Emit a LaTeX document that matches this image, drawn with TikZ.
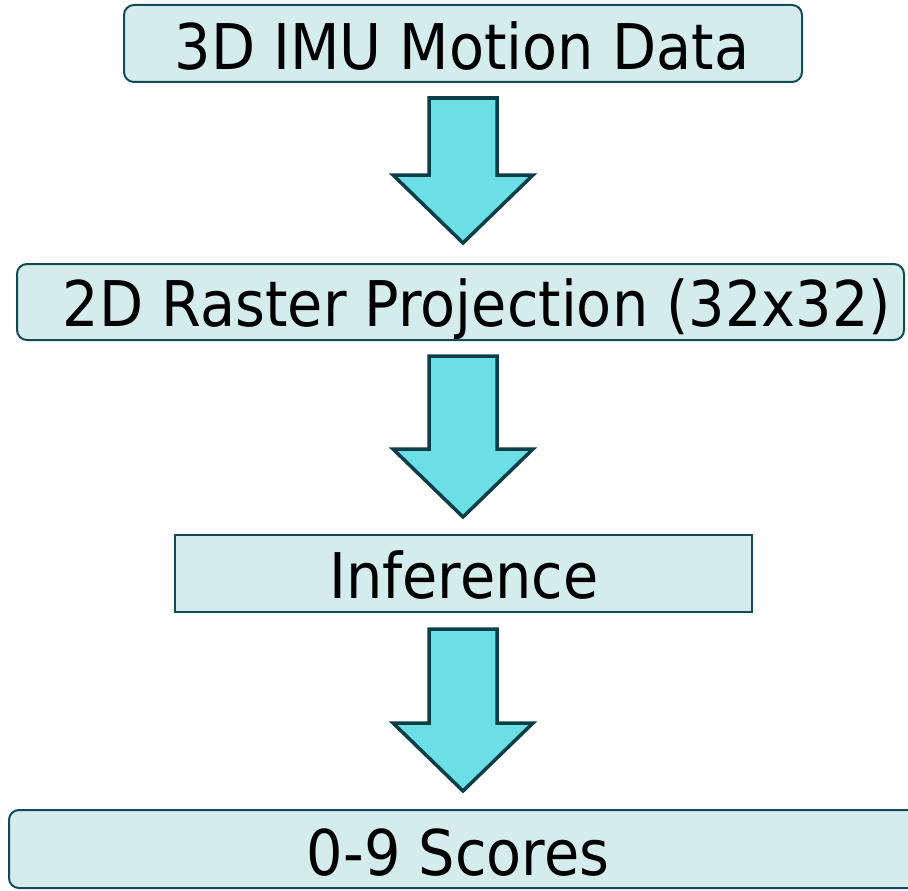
\documentclass[tikz,border=0pt]{standalone}
\usepackage{fontspec}
\usetikzlibrary{calc}
\newfontfamily\flowfont[FakeStretch=0.91]{DejaVu Sans}
\definecolor{boxfill}{RGB}{213,236,236}
\definecolor{boxline}{RGB}{18,75,85}
\definecolor{arrowfill}{RGB}{107,222,230}
\definecolor{arrowline}{RGB}{10,62,72}
\tikzset{
  stage/.style={draw=boxline, fill=boxfill, line width=2pt, rounded corners=10pt, inner sep=0pt},
  squarestage/.style={stage, rounded corners=0pt},
  caption/.style={anchor=base, inner sep=0pt, font=\flowfont\fontsize{63}{70}\selectfont},
  blockarrow/.style={draw=arrowline, fill=arrowfill, line width=3.5pt, miter limit=10}
}
% block arrow: starts #3 below the bottom of #1, its tip #4 above the top of #2
\newcommand{\flowarrow}[4]{%
  \draw[blockarrow]
    let \p1 = ($(#1.south)+(0,#3)$), \p2 = ($(#2.north)+(0,-#4)$) in
    (463-34,\y1) -- (463+34,\y1) -- (463+34,\y2+68) -- (463+70,\y2+68)
    -- (463,\y2) -- (463-70,\y2+68) -- (463-34,\y2+68) -- cycle;}
\begin{document}
\begin{tikzpicture}[x=1pt, y=-1pt]
  \useasboundingbox (0,0) rectangle (908,891);
  % stages
  \node[stage, minimum width=678pt, minimum height=77pt] (b1) at (463,43.5) {};
  \node[stage, minimum width=887pt, minimum height=76pt] (b2) at (460.5,302) {};
  \node[squarestage, minimum width=577pt, minimum height=77pt] (b3) at (463.5,573.5) {};
  \node[stage, minimum width=911pt, minimum height=78pt] (b4) at (464.5,849) {};
  % captions
  \node[caption] (t1) at (462,70) {3D IMU Motion Data};
  \node[caption] (t2) at (477,326) {2D Raster Projection (32x32)};
  \node[caption] (t3) at (464,598) {Inference};
  \node[caption] (t4) at (458,875) {0-9 Scores};
  % connectors
  \flowarrow{b1}{b2}{15}{20}
  \flowarrow{b2}{b3}{15}{17}
  \flowarrow{b3}{b4}{16}{18}
\end{tikzpicture}
\end{document}
